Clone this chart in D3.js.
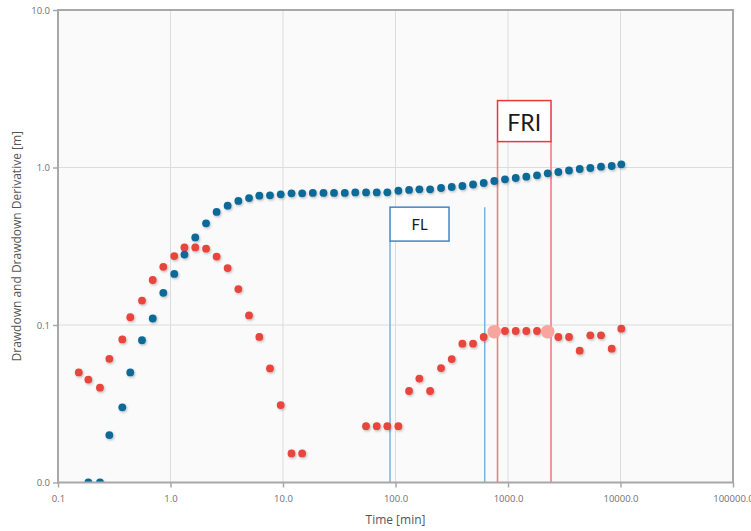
<!DOCTYPE html>
<html>
<head>
<meta charset="utf-8">
<script src="https://cdn.jsdelivr.net/npm/d3@7"></script>
<style>
  body { margin: 0; background: #ffffff; }
  svg { display: block; }
</style>
</head>
<body>
<svg id="chart" width="751" height="531"></svg>
<script>
// Elapsed time of each reading [min]
const time = [0.153, 0.186, 0.236, 0.286, 0.373, 0.439, 0.558, 0.695, 0.863, 1.08,
  1.33, 1.66, 2.07, 2.57, 3.22, 4.01, 4.99, 6.16, 7.66, 9.54,
  11.9, 14.8, 18.4, 22.9, 28.4, 35.4, 43.9, 54.7, 68.1, 84.6,
  106, 132, 163, 203, 254, 316, 393, 489, 608, 755,
  940, 1171, 1454, 1810, 2254, 2800, 3485, 4338, 5390, 6709,
  8352, 10165];

// Drawdown [m]
const drawdown = [null, 0.010, 0.010, 0.020, 0.030, 0.050, 0.080, 0.110, 0.160, 0.211,
  0.280, 0.360, 0.442, 0.522, 0.572, 0.613, 0.640, 0.662, 0.666, 0.676,
  0.686, 0.686, 0.690, 0.690, 0.690, 0.690, 0.695, 0.695, 0.695, 0.696,
  0.712, 0.720, 0.727, 0.727, 0.741, 0.752, 0.763, 0.780, 0.797, 0.821,
  0.841, 0.858, 0.874, 0.892, 0.919, 0.936, 0.957, 0.978, 0.993, 1.012,
  1.022, 1.048];

// Drawdown derivative [m]
const derivative = [0.050, 0.045, 0.040, 0.061, 0.081, 0.112, 0.143, 0.193, 0.234, 0.274,
  0.311, 0.311, 0.305, 0.272, 0.230, 0.169, 0.115, 0.084, 0.053, 0.031,
  0.0153, 0.0153, null, null, null, null, null, 0.0228, 0.0228, 0.0228,
  0.0228, 0.0381, 0.0457, 0.0381, 0.0533, 0.0608, 0.0761, 0.0761, 0.0839, 0.0907,
  0.0916, 0.0916, 0.0916, 0.0916, 0.0907, 0.0839, 0.0839, 0.0687, 0.086, 0.086,
  0.0707, 0.0947];

// Derivative readings that bound the FRI window
const friMarkers = [39, 44];

const xTicks = [0.1, 1, 10, 100, 1000, 10000, 100000];
const yTicks = [0.01, 0.1, 1, 10];

// Flow-regime windows: time range plus label box extent (box values in m)
const flWindow = { label: "FL", start: 89.4, end: 621, boxEnd: 299, boxTop: 0.56, boxBottom: 0.341 };
const friWindow = { label: "FRI", start: 807, end: 2412, boxTop: 2.66, boxBottom: 1.46 };

const svg = d3.select("#chart");
const W = 751, H = 531;
const plot = { left: 58, right: 733, top: 10, bottom: 482.5 };

const x = d3.scaleLog().domain([0.1, 100000]).range([plot.left, plot.right]);
const y = d3.scaleLog().domain([0.01, 10]).range([plot.bottom, plot.top]);

const defs = svg.append("defs");
defs.append("clipPath").attr("id", "plotClip")
  .append("rect")
  .attr("x", plot.left).attr("y", plot.top)
  .attr("width", plot.right - plot.left).attr("height", plot.bottom - plot.top);
const shadow = defs.append("filter").attr("id", "dotShadow")
  .attr("x", "-50%").attr("y", "-50%").attr("width", "200%").attr("height", "200%");
shadow.append("feDropShadow")
  .attr("dx", 1).attr("dy", 1.3).attr("stdDeviation", 0.9)
  .attr("flood-color", "#000").attr("flood-opacity", 0.25);

// plot background
svg.append("rect")
  .attr("x", plot.left).attr("y", plot.top)
  .attr("width", plot.right - plot.left).attr("height", plot.bottom - plot.top)
  .attr("fill", "#fafafa");

// grid
const grid = svg.append("g").attr("stroke", "#dcdcdc").attr("stroke-width", 1);
grid.selectAll(".gx").data(xTicks.slice(1, -1)).join("line")
  .attr("x1", d => x(d)).attr("x2", d => x(d))
  .attr("y1", plot.top).attr("y2", plot.bottom);
grid.selectAll(".gy").data(yTicks.slice(1, -1)).join("line")
  .attr("x1", plot.left).attr("x2", plot.right)
  .attr("y1", d => y(d)).attr("y2", d => y(d));

// flow-regime windows
const ann = svg.append("g");
// FL
ann.append("line")
  .attr("x1", x(flWindow.start)).attr("x2", x(flWindow.start))
  .attr("y1", y(flWindow.boxBottom)).attr("y2", plot.bottom)
  .attr("stroke", "#7ab3dc").attr("stroke-width", 1.5);
ann.append("line")
  .attr("x1", x(flWindow.end)).attr("x2", x(flWindow.end))
  .attr("y1", y(flWindow.boxTop)).attr("y2", plot.bottom)
  .attr("stroke", "#7ab3dc").attr("stroke-width", 1.5);
ann.append("rect")
  .attr("x", x(flWindow.start)).attr("y", y(flWindow.boxTop))
  .attr("width", x(flWindow.boxEnd) - x(flWindow.start))
  .attr("height", y(flWindow.boxBottom) - y(flWindow.boxTop))
  .attr("fill", "#ffffff").attr("stroke", "#3f86c4").attr("stroke-width", 1.5);
ann.append("text")
  .attr("x", (x(flWindow.start) + x(flWindow.boxEnd)) / 2)
  .attr("y", (y(flWindow.boxTop) + y(flWindow.boxBottom)) / 2)
  .attr("text-anchor", "middle").attr("dominant-baseline", "central")
  .attr("font-family", "Lato, 'Open Sans', sans-serif").attr("font-size", 15)
  .attr("fill", "#1a1a1a").text(flWindow.label);
// FRI
[friWindow.start, friWindow.end].forEach(t => {
  ann.append("line")
    .attr("x1", x(t)).attr("x2", x(t))
    .attr("y1", y(friWindow.boxBottom)).attr("y2", plot.bottom)
    .attr("stroke", "#f07f82").attr("stroke-width", 1.6);
});
ann.append("rect")
  .attr("x", x(friWindow.start)).attr("y", y(friWindow.boxTop))
  .attr("width", x(friWindow.end) - x(friWindow.start))
  .attr("height", y(friWindow.boxBottom) - y(friWindow.boxTop))
  .attr("fill", "#ffffff").attr("stroke", "#e8383c").attr("stroke-width", 1.5);
ann.append("text")
  .attr("x", (x(friWindow.start) + x(friWindow.end)) / 2)
  .attr("y", (y(friWindow.boxTop) + y(friWindow.boxBottom)) / 2 + 1)
  .attr("text-anchor", "middle").attr("dominant-baseline", "central")
  .attr("font-family", "Lato, 'Open Sans', sans-serif").attr("font-size", 23)
  .attr("fill", "#1a1a1a").text(friWindow.label);

// data points
const pts = svg.append("g").attr("clip-path", "url(#plotClip)");
const derivPts = time.map((t, i) => ({ t, v: derivative[i], i })).filter(d => d.v != null);
const drawPts = time.map((t, i) => ({ t, v: drawdown[i], i })).filter(d => d.v != null);

pts.append("g").attr("filter", "url(#dotShadow)")
  .selectAll("circle").data(derivPts).join("circle")
  .attr("cx", d => x(d.t)).attr("cy", d => y(d.v)).attr("r", 3.9)
  .attr("fill", "#e8453e");
pts.append("g")
  .selectAll("circle").data(friMarkers.map(i => ({ t: time[i], v: derivative[i] }))).join("circle")
  .attr("cx", d => x(d.t)).attr("cy", d => y(d.v)).attr("r", 6.8)
  .attr("fill", "#f8a49f");
pts.append("g").attr("filter", "url(#dotShadow)")
  .selectAll("circle").data(drawPts).join("circle")
  .attr("cx", d => x(d.t)).attr("cy", d => y(d.v)).attr("r", 3.9)
  .attr("fill", "#0b6b98");

// frame
svg.append("rect")
  .attr("x", plot.left).attr("y", plot.top)
  .attr("width", plot.right - plot.left).attr("height", plot.bottom - plot.top)
  .attr("fill", "none").attr("stroke", "#a8a8a8").attr("stroke-width", 2);

// axes
const fmt = d3.format(".1f");
const xAxis = svg.append("g").attr("transform", `translate(0,${plot.bottom})`)
  .call(d3.axisBottom(x).tickValues(xTicks).tickFormat(fmt).tickSize(5).tickPadding(8));
const yAxis = svg.append("g").attr("transform", `translate(${plot.left},0)`)
  .call(d3.axisLeft(y).tickValues(yTicks).tickFormat(fmt).tickSize(5).tickPadding(3));
[xAxis, yAxis].forEach(a => {
  a.select(".domain").remove();
  a.selectAll(".tick line").attr("stroke", "#a8a8a8").attr("stroke-width", 1.5);
  a.selectAll(".tick text")
    .attr("fill", "#707070")
    .attr("font-family", "'Open Sans', sans-serif")
    .attr("font-size", 9.5);
});

// axis titles
svg.append("text")
  .attr("x", (plot.left + plot.right) / 2).attr("y", 524)
  .attr("text-anchor", "middle")
  .attr("font-family", "'Open Sans', sans-serif").attr("font-size", 12)
  .attr("fill", "#555").text("Time [min]");
svg.append("text")
  .attr("transform", `translate(21,${(plot.top + plot.bottom) / 2}) rotate(-90)`)
  .attr("text-anchor", "middle")
  .attr("font-family", "'Open Sans', sans-serif").attr("font-size", 12)
  .attr("fill", "#555").text("Drawdown and Drawdown Derivative [m]");
</script>
</body>
</html>
